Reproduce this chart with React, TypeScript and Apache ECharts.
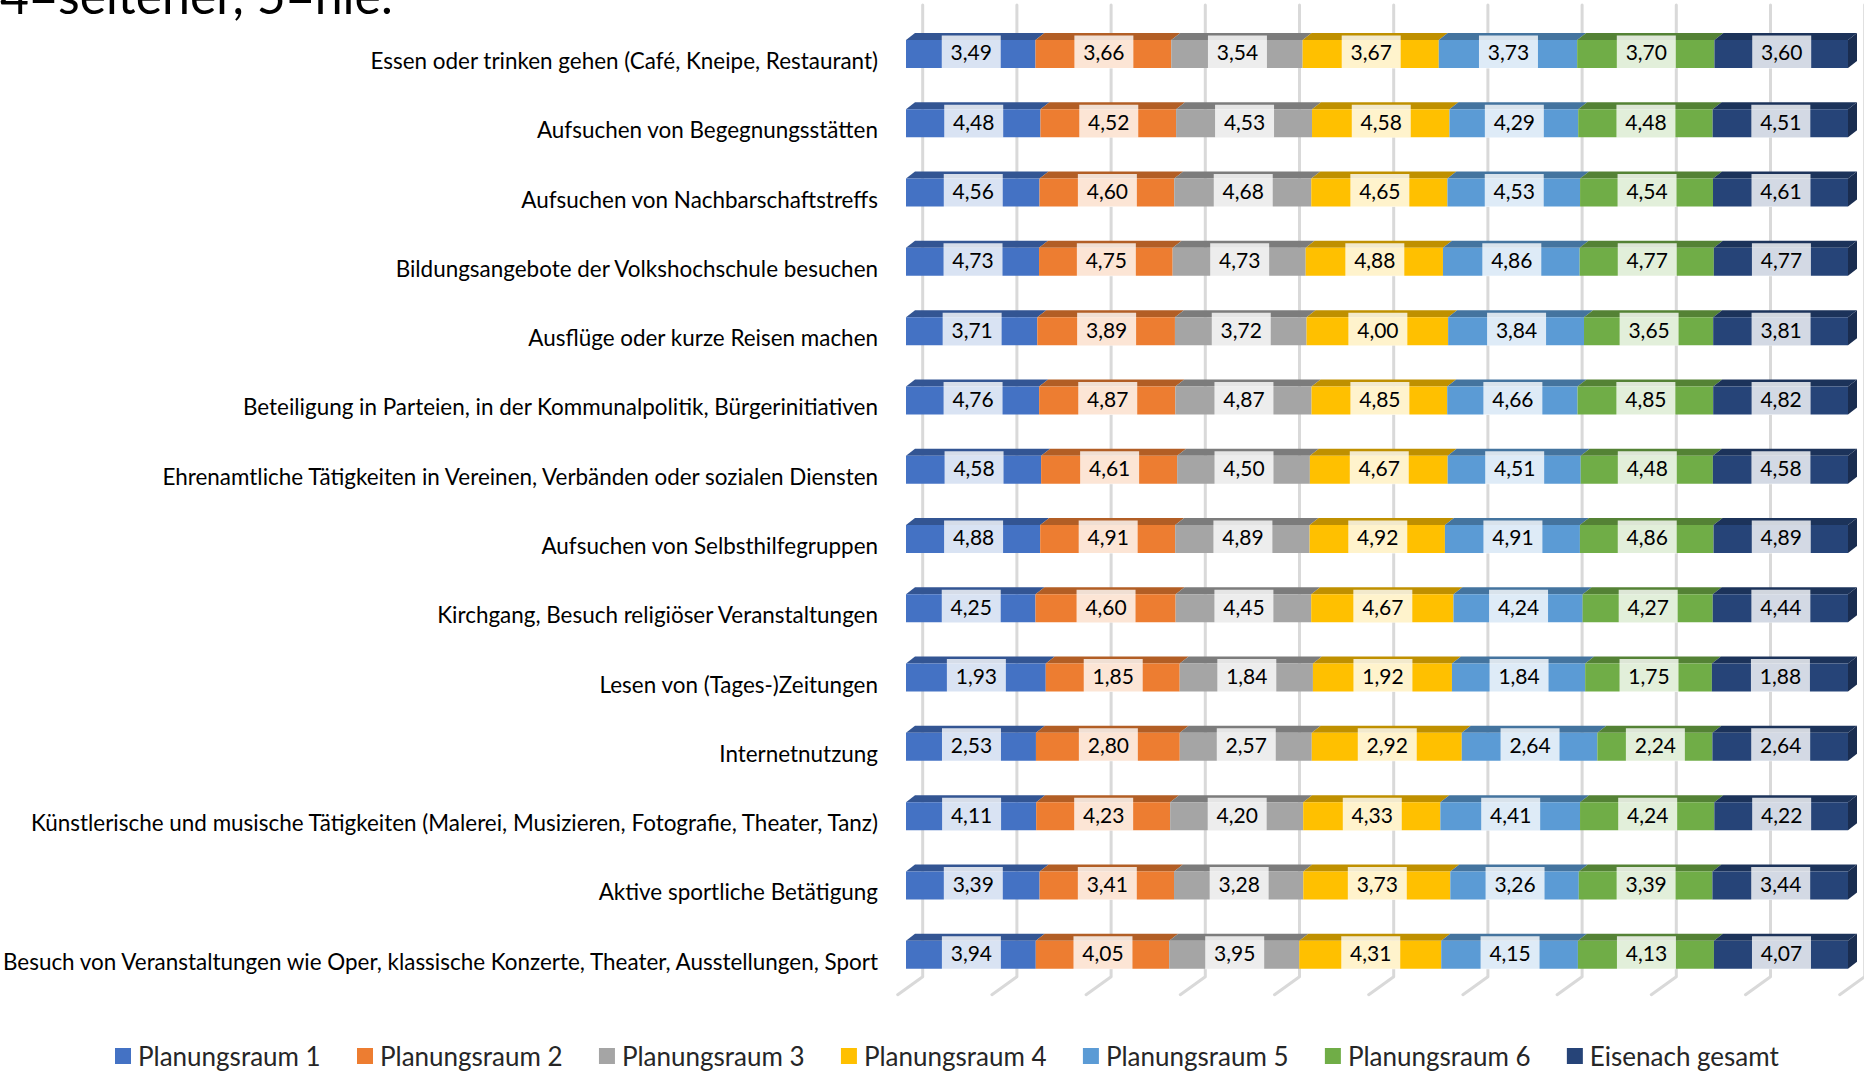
import React, { useEffect, useRef } from "react";
import * as echarts from "echarts";

const titleFragment = "4=seltener, 5=nie.";
const categories = [
  "Essen oder trinken gehen (Café, Kneipe, Restaurant)",
  "Aufsuchen von Begegnungsstätten",
  "Aufsuchen von Nachbarschaftstreffs",
  "Bildungsangebote der Volkshochschule besuchen",
  "Ausflüge oder kurze Reisen machen",
  "Beteiligung in Parteien, in der Kommunalpolitik, Bürgerinitiativen",
  "Ehrenamtliche Tätigkeiten in Vereinen, Verbänden oder sozialen Diensten",
  "Aufsuchen von Selbsthilfegruppen",
  "Kirchgang, Besuch religiöser Veranstaltungen",
  "Lesen von (Tages-)Zeitungen",
  "Internetnutzung",
  "Künstlerische und musische Tätigkeiten (Malerei, Musizieren, Fotografie, Theater, Tanz)",
  "Aktive sportliche Betätigung",
  "Besuch von Veranstaltungen wie Oper, klassische Konzerte, Theater, Ausstellungen, Sport",
];
const seriesNames = ["Planungsraum 1", "Planungsraum 2", "Planungsraum 3", "Planungsraum 4", "Planungsraum 5", "Planungsraum 6", "Eisenach gesamt"];
const raum1 = [3.49, 4.48, 4.56, 4.73, 3.71, 4.76, 4.58, 4.88, 4.25, 1.93, 2.53, 4.11, 3.39, 3.94];
const raum2 = [3.66, 4.52, 4.6, 4.75, 3.89, 4.87, 4.61, 4.91, 4.6, 1.85, 2.8, 4.23, 3.41, 4.05];
const raum3 = [3.54, 4.53, 4.68, 4.73, 3.72, 4.87, 4.5, 4.89, 4.45, 1.84, 2.57, 4.2, 3.28, 3.95];
const raum4 = [3.67, 4.58, 4.65, 4.88, 4.0, 4.85, 4.67, 4.92, 4.67, 1.92, 2.92, 4.33, 3.73, 4.31];
const raum5 = [3.73, 4.29, 4.53, 4.86, 3.84, 4.66, 4.51, 4.91, 4.24, 1.84, 2.64, 4.41, 3.26, 4.15];
const raum6 = [3.7, 4.48, 4.54, 4.77, 3.65, 4.85, 4.48, 4.86, 4.27, 1.75, 2.24, 4.24, 3.39, 4.13];
const gesamt = [3.6, 4.51, 4.61, 4.77, 3.81, 4.82, 4.58, 4.89, 4.44, 1.88, 2.64, 4.22, 3.44, 4.07];
const seriesValues = [raum1, raum2, raum3, raum4, raum5, raum6, gesamt];
const percentTicks = [0, 10, 20, 30, 40, 50, 60, 70, 80, 90, 100];
const frontColors = ["#4472C4", "#ED7D31", "#A5A5A5", "#FFC000", "#5B9BD5", "#70AD47", "#264478"];
const topColors = ["#335593", "#B25E25", "#7C7C7C", "#BF9000", "#44749F", "#548235", "#1C335A"];
const sideColor = "#1A2D50";
const DX = 9;
const DY = 7;
const FONT = "Lato";

export default function App() {
  const ref = useRef<HTMLDivElement>(null);
  useEffect(() => {
    const chart = echarts.init(ref.current!, undefined, { renderer: "svg" });
    const totals = categories.map((_, r) => seriesValues.reduce((s, v) => s + v[r], 0));
    const pct = seriesValues.map((v) => v.map((x, r) => (x / totals[r]) * 100));
    const segments: number[][] = [];
    categories.forEach((_, r) => {
      let acc = 0;
      pct.forEach((p, s) => {
        segments.push([r, acc, acc + p[r], s]);
        acc += p[r];
      });
    });
    chart.setOption({
      animation: false,
      title: {
        text: titleFragment,
        left: 0,
        top: -30,
        padding: 0,
        textStyle: { fontFamily: FONT, fontSize: 50, fontWeight: "normal", color: "#000" },
      },
      legend: {
        data: seriesNames,
        left: 115,
        top: 1043,
        padding: 0,
        icon: "rect",
        itemWidth: 16,
        itemHeight: 16,
        itemGap: 36.3,
        textStyle: { fontFamily: FONT, fontSize: 26, color: "#262626", padding: [0, 0, 0, 2] },
      },
      grid: { left: 906, top: 19.35, width: 942, height: 970, outerBoundsMode: "none" },
      xAxis: { type: "value", min: 0, max: 100, interval: 10, show: false },
      yAxis: {
        type: "category",
        data: categories,
        inverse: true,
        axisLine: { show: false },
        axisTick: { show: false },
        axisLabel: { margin: 28, fontFamily: FONT, fontSize: 22.45, color: "#000", verticalAlign: "top", lineHeight: 13 },
      },
      series: [
        {
          type: "custom",
          id: "wall",
          silent: true,
          z: 1,
          clip: false,
          data: percentTicks.map((t) => [t]),
          renderItem: (_p: any, api: any) => {
            const x = api.coord([api.value(0), 0])[0] + 16.7;
            const top = api.coord([0, 0])[1] - 49;
            const bot = api.coord([0, categories.length - 1])[1] + 22;
            return {
              type: "polyline",
              shape: { points: [[x, top], [x, bot], [x - 25, bot + 18]] },
              style: { stroke: "#D9D9D9", lineWidth: 3, fill: "none", lineCap: "round", lineJoin: "round" },
            };
          },
        },
        {
          type: "custom",
          id: "tops",
          silent: true,
          z: 2,
          clip: false,
          encode: { x: [1, 2], y: 0 },
          data: segments,
          renderItem: (_p: any, api: any) => {
            const r = api.value(0);
            const s = api.value(3);
            const y = api.coord([0, r])[1] - 14;
            const x0 = api.coord([api.value(1), r])[0];
            const x1 = api.coord([api.value(2), r])[0];
            const children: any[] = [
              {
                type: "polygon",
                shape: { points: [[x0, y], [x0 + DX, y - DY], [x1 + DX, y - DY], [x1, y]] },
                style: { fill: topColors[s] },
              },
            ];
            if (s === seriesNames.length - 1) {
              children.push({
                type: "polygon",
                shape: { points: [[x1, y], [x1 + DX, y - DY], [x1 + DX, y + 21], [x1, y + 28]] },
                style: { fill: sideColor },
              });
            }
            return { type: "group", children };
          },
        },
        ...seriesNames.map((name, s) => ({
          type: "bar",
          name,
          stack: "total",
          z: 3,
          barWidth: 28,
          itemStyle: { color: frontColors[s] },
          data: pct[s],
          label: {
            show: true,
            position: "inside",
            offset: [0.5, -2],
            formatter: (p: any) => seriesValues[s][p.dataIndex].toFixed(2).replace(".", ","),
            fontFamily: FONT,
            fontSize: 21,
            color: "#000",
            width: 59,
            height: 24,
            lineHeight: 24,
            align: "center",
            padding: [9, 0, 0, 0],
            backgroundColor: "rgba(255,255,255,0.8)",
          },
        })),
      ],
    });
    return () => chart.dispose();
  }, []);
  return <div ref={ref} style={{ position: "absolute", left: 0, top: 0, width: 1864, height: 1073 }} />;
}
